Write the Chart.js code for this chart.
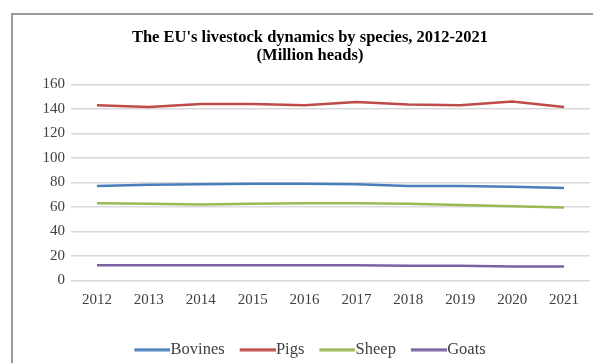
<!DOCTYPE html>
<html>
<head>
<meta charset="utf-8">
<script src="https://cdn.jsdelivr.net/npm/chart.js@4/dist/chart.umd.min.js"></script>
<style>
  html, body { margin: 0; padding: 0; background: #fff; overflow: hidden; }
  #frame {
    position: absolute; left: 11px; top: 13px; width: 600px; height: 360px;
    border-left: 2px solid #9a9a9a; border-top: 2px solid #9a9a9a;
  }
  #wrap { position: absolute; left: 12px; top: 14px; width: 595px; height: 360px; }
</style>
</head>
<body>
<div id="frame"></div>
<div id="wrap"><canvas id="chart"></canvas></div>
<script>
const years = ["2012", "2013", "2014", "2015", "2016", "2017", "2018", "2019", "2020", "2021"];
const bovines = [77, 78, 78.5, 79, 79, 78.5, 77, 77, 76.5, 75.5];
const pigs = [143, 141.5, 144, 144, 143, 145.5, 143.5, 143, 146, 141.5];
const sheep = [63, 62.5, 62, 62.5, 63, 63, 62.5, 61.5, 60.5, 59.5];
const goats = [12.5, 12.5, 12.5, 12.5, 12.5, 12.5, 12, 12, 11.5, 11.5];

const serif = "'Liberation Serif', 'Times New Roman', serif";

// legend swatch: a short line that sits right up against its label
function swatch(color) {
  const c = document.createElement("canvas");
  c.width = 44;
  c.height = 4;
  const ctx = c.getContext("2d");
  ctx.fillStyle = color;
  ctx.fillRect(8, 0.5, 36, 3);
  return c;
}

function line(label, data, color) {
  return {
    label: label,
    data: data,
    borderColor: color,
    backgroundColor: color,
    borderWidth: 2.5,
    pointRadius: 0,
    pointStyle: swatch(color),
    tension: 0,
  };
}

new Chart(document.getElementById("chart"), {
  type: "line",
  data: {
    labels: years,
    datasets: [
      line("Bovines", bovines, "#4a7ebb"),
      line("Pigs", pigs, "#be4b48"),
      line("Sheep", sheep, "#98b954"),
      line("Goats", goats, "#7d60a0"),
    ],
  },
  options: {
    responsive: true,
    maintainAspectRatio: false,
    animation: false,
    layout: { padding: { left: 18, right: 17, top: 15, bottom: 6 } },
    plugins: {
      title: {
        display: true,
        text: ["The EU's livestock dynamics by species, 2012-2021", "(Million heads)"],
        color: "#000",
        font: { family: serif, size: 16.5, weight: "bold", lineHeight: 1.07 },
        padding: { top: 0, bottom: 20 },
      },
      legend: {
        position: "bottom",
        labels: {
          color: "#404040",
          font: { family: serif, size: 16.5 },
          usePointStyle: true,
          pointStyleWidth: 28,
          padding: 15,
        },
      },
      tooltip: { enabled: false },
    },
    scales: {
      x: {
        offset: true,
        afterFit: function (scale) { scale.height += 14; },
        grid: { display: false },
        border: { display: false },
        ticks: { color: "#404040", font: { family: serif, size: 15 }, padding: 3, maxRotation: 0 },
      },
      y: {
        min: 0,
        max: 160,
        afterFit: function (scale) { scale.width = 41; },
        grid: { color: "#d9d9d9", lineWidth: 1.5, drawTicks: false },
        border: { display: false },
        ticks: { stepSize: 20, color: "#404040", font: { family: serif, size: 15 }, padding: 6 },
      },
    },
  },
});
</script>
</body>
</html>
